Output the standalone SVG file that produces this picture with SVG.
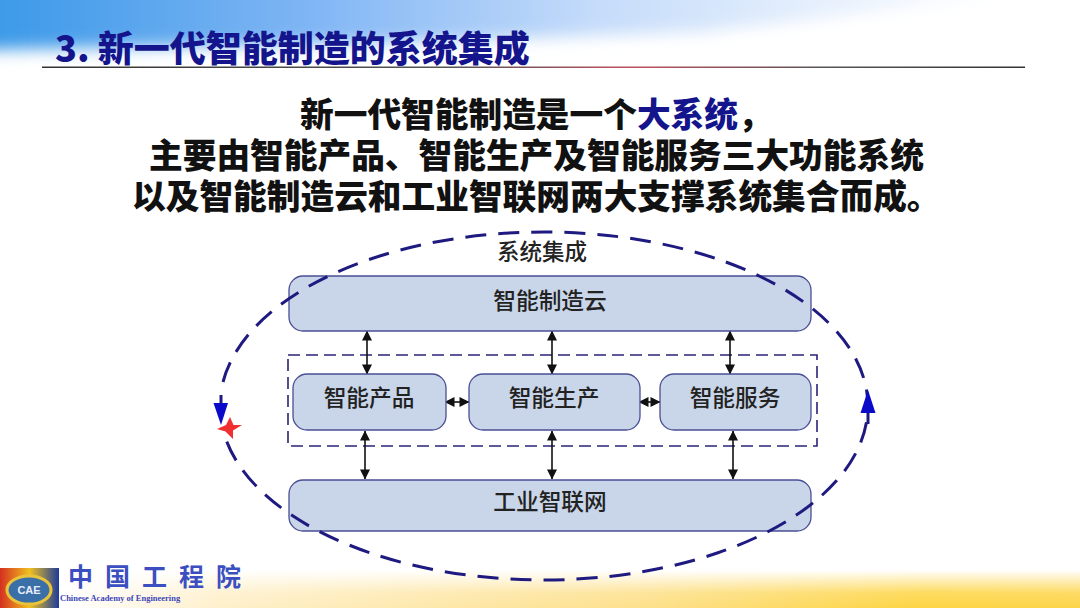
<svg xmlns="http://www.w3.org/2000/svg" width="1080" height="608" viewBox="0 0 1080 608">
<defs>
<linearGradient id="top" gradientUnits="userSpaceOnUse" x1="0" y1="0" x2="1000" y2="0"><stop offset="0" stop-color="#3d9ae8"/><stop offset="0.3" stop-color="#7db4f4"/><stop offset="0.6" stop-color="#c6dcfa"/><stop offset="1" stop-color="#ffffff"/></linearGradient>
<filter id="soft" x="-5%" y="-50%" width="110%" height="200%"><feGaussianBlur stdDeviation="8"/></filter>
<linearGradient id="bot" x1="0" y1="0" x2="1" y2="0"><stop offset="0.06" stop-color="#fff"/><stop offset="0.2" stop-color="#fef0cc"/><stop offset="0.6" stop-color="#fde08a"/><stop offset="0.85" stop-color="#fdd544"/><stop offset="1" stop-color="#fdd54a"/></linearGradient>
<linearGradient id="botf" x1="0" y1="0" x2="0" y2="1"><stop offset="0" stop-color="#fff" stop-opacity="1"/><stop offset="0.6" stop-color="#fff" stop-opacity="0.15"/><stop offset="1" stop-color="#fff" stop-opacity="0"/></linearGradient>
<linearGradient id="rule" x1="0" y1="0" x2="1" y2="0"><stop offset="0" stop-color="#333"/><stop offset="0.42" stop-color="#555"/><stop offset="0.6" stop-color="#c05060"/><stop offset="0.8" stop-color="#555"/><stop offset="1" stop-color="#333"/></linearGradient>
<linearGradient id="logo" x1="0" y1="0" x2="1" y2="0"><stop offset="0" stop-color="#d5301f"/><stop offset="0.5" stop-color="#f0c020"/><stop offset="1" stop-color="#1d3c9a"/></linearGradient>
<marker id="ah" viewBox="0 0 10 10" refX="9.5" refY="5" markerWidth="11" markerHeight="10" markerUnits="userSpaceOnUse" orient="auto-start-reverse"><path d="M0 0L10 5L0 10Z" fill="#111"/></marker>
</defs>
<style>
.zh{font-family:"Noto Sans CJK SC","Liberation Sans",sans-serif}
.head{font-size:33.7px;font-weight:900;fill:#111}
.box{fill:#c9d5e8;stroke:#4a4f94;stroke-width:1.3}
.lbl{font-size:22.7px;fill:#222;text-anchor:middle;font-weight:500}
.con{stroke:#111;stroke-width:1.6;fill:none;marker-start:url(#ah);marker-end:url(#ah)}
.dash{fill:none;stroke:#1e1a80;stroke-width:3;stroke-dasharray:21 12}
</style>
<rect width="1080" height="608" fill="#fff"/>
<path d="M-30 -30H1100L1000 -2L700 32L400 42L-30 50Z" fill="url(#top)" filter="url(#soft)"/>
<rect y="570" width="1080" height="38" fill="url(#bot)"/>
<rect y="570" width="1080" height="38" fill="url(#botf)"/>
<rect x="42" y="66.5" width="983" height="1.5" fill="url(#rule)"/>
<text id="title" class="zh" x="55" y="62" font-size="36" font-weight="900" fill="#14148c">3. 新一代智能制造的系统集成</text>
<text class="zh head" x="300" y="127">新一代智能制造是一个<tspan fill="#14148c">大系统</tspan>，</text>
<text class="zh head" x="149" y="168">主要由智能产品、智能生产及智能服务三大功能系统</text>
<text class="zh head" x="132" y="209">以及智能制造云和工业智联网两大支撑系统集合而成。</text>
<text class="zh" x="542" y="260" font-size="22.5" fill="#222" text-anchor="middle" font-weight="500">系统集成</text>
<rect x="288" y="355" width="529" height="91" fill="none" stroke="#2a2478" stroke-width="1.6" stroke-dasharray="12 6"/>
<g id="connectors">
<path class="con" d="M367 331V374"/>
<path class="con" d="M552 331V374"/>
<path class="con" d="M730 331V374"/>
<path class="con" d="M365 431V479"/>
<path class="con" d="M552 431V479"/>
<path class="con" d="M733 431V479"/>
<path class="con" d="M445 402H469"/>
<path class="con" d="M639 402H660"/>
</g>
<g id="cloud"><rect class="box" x="289" y="276" width="522" height="55" rx="14"/><text class="zh lbl" x="550" y="309">智能制造云</text></g>
<g id="product"><rect class="box" x="293" y="374" width="153" height="56" rx="14"/><text class="zh lbl" x="369" y="406">智能产品</text></g>
<g id="production"><rect class="box" x="469" y="374" width="171" height="56" rx="14"/><text class="zh lbl" x="554" y="406">智能生产</text></g>
<g id="service"><rect class="box" x="660" y="374" width="151" height="56" rx="14"/><text class="zh lbl" x="735" y="406">智能服务</text></g>
<g id="net"><rect class="box" x="289" y="480" width="522" height="51" rx="14"/><text class="zh lbl" x="550" y="510">工业智联网</text></g>
<g id="ellipse">
<path class="dash" d="M223 382A324 174 0 1 1 223 430"/>
<path d="M221 395V405M868 412V424" stroke="#1e1a80" stroke-width="3" fill="none"/>
<path d="M213.500 403L228 403L221 425Z" fill="#0a0ac8"/>
<path d="M860.500 413L875.500 413L868 390Z" fill="#0a0ac8"/>
<path d="M242 425L233.500 425L230 417L226 425L217 429L225.500 431.500L233 439L233 430.500Z" fill="#f03030"/>
</g>
<g id="logoarea">
<rect x="0" y="568" width="59" height="40" fill="url(#logo)"/>
<ellipse cx="29" cy="590" rx="22" ry="14" fill="#3b6fa8" stroke="#e9c43a" stroke-width="3"/>
<text x="29" y="594" font-family="Liberation Sans,sans-serif" font-size="11" font-weight="700" fill="#e8eefc" text-anchor="middle">CAE</text>
<text class="zh" x="68" y="586" font-size="25" fill="#3c4fc0" font-weight="700" letter-spacing="12">中国工程院</text>
<text x="60" y="601" font-family="Liberation Serif,serif" font-size="8.5" fill="#3c46b8" font-weight="700">Chinese Academy of Engineering</text>
</g>
</svg>
